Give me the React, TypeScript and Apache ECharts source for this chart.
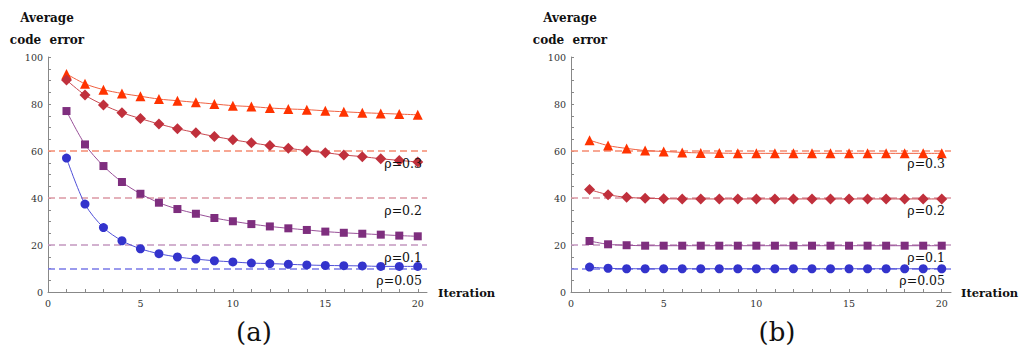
import React, { useEffect, useRef } from "react";
import * as echarts from "echarts";

const iterations = Array.from({ length: 20 }, (_, i) => i + 1);

// Panel (a)
const a_rho03 = [92.8, 88.6, 86.1, 84.5, 83.3, 82.1, 81.4, 80.7, 80.0, 79.3, 78.9, 78.3, 77.9, 77.6, 77.1, 76.7, 76.3, 76.0, 75.7, 75.4];
const a_rho02 = [90.2, 83.8, 79.6, 76.3, 73.8, 71.5, 69.5, 67.8, 66.2, 64.8, 63.5, 62.3, 61.2, 60.1, 59.3, 58.3, 57.6, 56.7, 56.0, 55.3];
const a_rho01 = [77.0, 62.8, 53.6, 46.8, 41.8, 38.0, 35.3, 33.3, 31.5, 30.1, 28.9, 27.9, 27.1, 26.4, 25.7, 25.2, 24.8, 24.4, 24.0, 23.7];
const a_rho005 = [57.0, 37.4, 27.4, 21.8, 18.4, 16.3, 14.9, 14.0, 13.3, 12.8, 12.3, 12.1, 11.8, 11.5, 11.3, 11.2, 11.1, 10.9, 10.9, 10.9];

// Panel (b)
const b_rho03 = [64.6, 62.3, 61.1, 60.2, 59.8, 59.4, 59.2, 59.1, 59.0, 59.0, 59.0, 59.0, 59.0, 59.0, 59.0, 59.0, 59.0, 59.0, 59.0, 59.0];
const b_rho02 = [43.6, 41.4, 40.3, 39.9, 39.7, 39.6, 39.6, 39.6, 39.6, 39.6, 39.6, 39.6, 39.6, 39.6, 39.6, 39.6, 39.6, 39.6, 39.6, 39.6];
const b_rho01 = [21.7, 20.3, 19.9, 19.7, 19.7, 19.7, 19.7, 19.7, 19.7, 19.7, 19.7, 19.7, 19.7, 19.7, 19.7, 19.7, 19.7, 19.7, 19.7, 19.7];
const b_rho005 = [10.6, 10.1, 9.9, 9.9, 9.9, 9.9, 9.9, 9.9, 9.9, 9.9, 9.9, 9.9, 9.9, 9.9, 9.9, 9.9, 9.9, 9.9, 9.9, 9.9];

const targets = [60, 40, 20, 10];
const rhoLabels = ["ρ=0.3", "ρ=0.2", "ρ=0.1", "ρ=0.05"];
const xLabelValues = [0, 5, 10, 15, 20];
const xTickValues = Array.from({ length: 21 }, (_, i) => i);
const yLabelValues = [0, 20, 40, 60, 80, 100];
const yTickValues = Array.from({ length: 21 }, (_, i) => i * 5);

const markerColors = ["#ff3300", "#c0303c", "#7e2e7e", "#3333cc"];
const lineColors = ["#f06040", "#c84850", "#985098", "#5050d8"];
const dashColors = ["#f58a70", "#dc98a4", "#c498c0", "#7a7ae8"];
const symbols = ["triangle", "diamond", "rect", "circle"];
const symbolSizes = [10, 11, 8, 9];

const SERIF = "DejaVu Serif";

export default function App() {
  const ref = useRef<HTMLDivElement>(null);
  useEffect(() => {
    if (!ref.current) return;
    const chart = echarts.init(ref.current, undefined, { renderer: "svg" });
    const panels = [
      [a_rho03, a_rho02, a_rho01, a_rho005],
      [b_rho03, b_rho02, b_rho01, b_rho005],
    ];
    const grids = [
      { left: 48, top: 57, width: 379, height: 235 },
      { left: 571, top: 57, width: 380, height: 235 },
    ];
    const axisLine = { lineStyle: { color: "#888", width: 1 } };
    const xAxes = grids.map((_, gi) => ({
      type: "value",
      gridIndex: gi,
      min: 0,
      max: 20.5,
      axisLine: { show: true, onZero: false, ...axisLine },
      axisTick: { show: true, inside: true, length: 3, customValues: xTickValues, lineStyle: { color: "#888" } },
      axisLabel: { customValues: xLabelValues, fontFamily: SERIF, fontSize: 9.5, color: "#333", margin: 6 },
      splitLine: { show: false },
    }));
    const yAxes = grids.map((_, gi) => ({
      type: "value",
      gridIndex: gi,
      min: 0,
      max: 100,
      axisLine: { show: true, ...axisLine },
      axisTick: { show: true, inside: true, length: 3, customValues: yTickValues, lineStyle: { color: "#888" } },
      axisLabel: { customValues: yLabelValues, fontFamily: SERIF, fontSize: 9.5, color: "#333", margin: 5 },
      splitLine: { show: false },
    }));
    const series: any[] = [];
    panels.forEach((panel, pi) => {
      panel.forEach((vals, si) => {
        series.push({
          type: "line",
          name: rhoLabels[si],
          xAxisIndex: pi,
          yAxisIndex: pi,
          data: iterations.map((x, i) => [x, vals[i]]),
          smooth: 0.3,
          symbol: symbols[si],
          symbolSize: symbolSizes[si],
          itemStyle: { color: markerColors[si] },
          lineStyle: { color: lineColors[si], width: 1 },
          z: 3,
          markLine: {
            silent: true,
            symbol: "none",
            label: { show: false },
            lineStyle: { type: [7, 4], color: dashColors[si], width: 1.5, opacity: 1 },
            data: [{ yAxis: targets[si] }],
            z: 1,
          },
        });
      });
    });
    const labelY = [163, 210, 257, 280];
    const labelRight = [422, 945];
    const graphic: any[] = [];
    const txt = (x: number, y: number, text: string, size: number, weight: string, align: string) => ({
      type: "text", x, y, z: 10,
      style: { text, fontFamily: SERIF, fontSize: size, fontWeight: weight, fill: "#111", align, verticalAlign: "middle" },
    });
    [0, 1].forEach((pi) => {
      const cx = pi === 0 ? 47 : 570;
      graphic.push(txt(cx, 18, "Average", 12, "bold", "center"));
      graphic.push(txt(cx, 40, "code  error", 12, "bold", "center"));
      graphic.push(txt(pi === 0 ? 438 : 961, 293, "Iteration", 11.5, "bold", "left"));
      graphic.push(txt(pi === 0 ? 254 : 777, 332, pi === 0 ? "(a)" : "(b)", 26, "normal", "center"));
      rhoLabels.forEach((t, i) => {
        graphic.push(txt(labelRight[pi], labelY[i], t, 12.5, "normal", "right"));
      });
    });
    chart.setOption({
      animation: false,
      backgroundColor: "#fff",
      grid: grids,
      xAxis: xAxes,
      yAxis: yAxes,
      series,
      graphic,
    });
    return () => chart.dispose();
  }, []);
  return <div ref={ref} style={{ width: 1025, height: 353, position: "absolute", left: 0, top: 0 }} />;
}
